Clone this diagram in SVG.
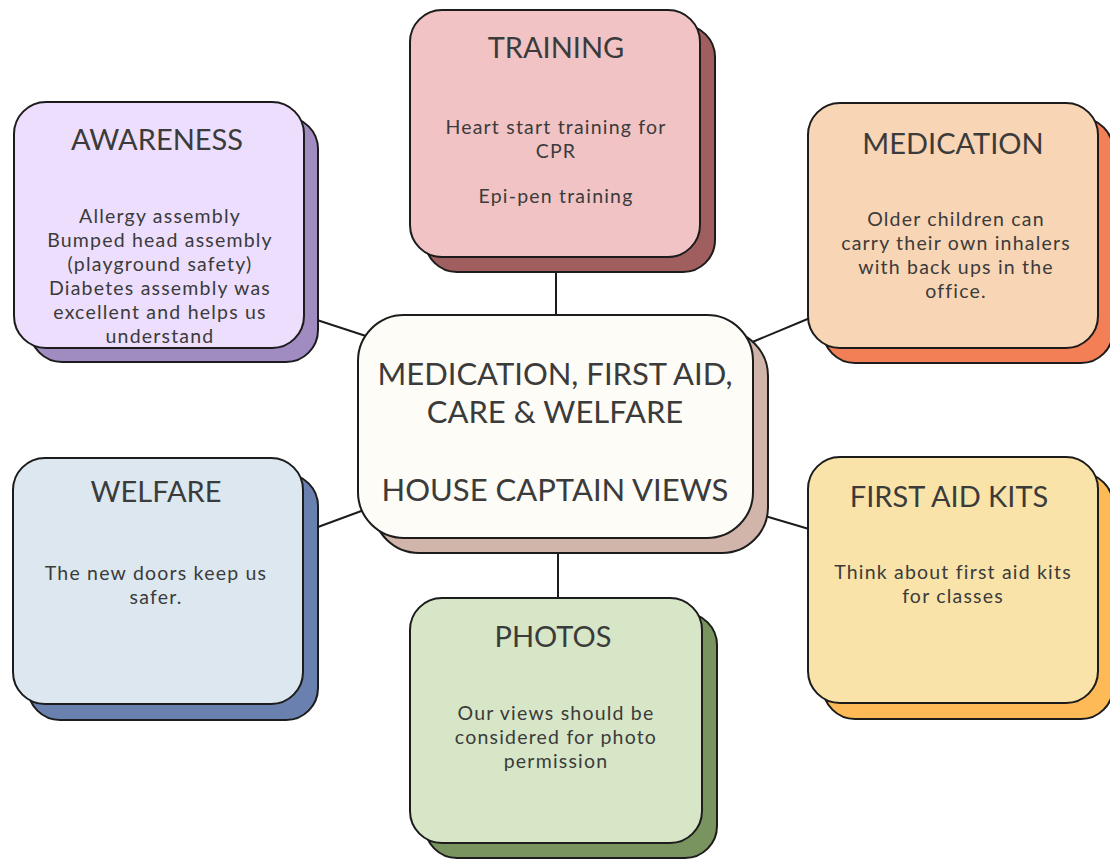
<svg xmlns="http://www.w3.org/2000/svg" width="1110" height="859" viewBox="0 0 1110 859">
<style>
.b{stroke:#1c1c1c;stroke-width:2}
.t{font-family:Lato,"Noto Sans","Liberation Sans",sans-serif;fill:#3b3b3b;text-anchor:middle}
.h{font-size:29px}
.p{font-size:19.5px;letter-spacing:1.2px}
.c{font-size:31px}
.ln{stroke:#1c1c1c;stroke-width:2;fill:none}
</style>
<rect width="1110" height="859" fill="#ffffff"/>
<g id="connectors">
<line class="ln" x1="556" y1="257" x2="556" y2="320"/>
<line class="ln" x1="317" y1="320" x2="372" y2="338"/>
<line class="ln" x1="750" y1="343" x2="810" y2="318"/>
<line class="ln" x1="318" y1="527" x2="364" y2="510"/>
<line class="ln" x1="765" y1="516" x2="809" y2="529"/>
<line class="ln" x1="558" y1="550" x2="558" y2="600"/>
</g>
<g id="awareness">
<rect class="b" x="30" y="117" width="288" height="245" rx="32" fill="#A08CC0"/>
<rect class="b" x="14" y="102" width="290" height="246" rx="32" fill="#ECDEFC"/>
<text class="t h" x="157" y="150">AWARENESS</text>
<text class="t p" x="160" y="223">Allergy assembly</text>
<text class="t p" x="160" y="247">Bumped head assembly</text>
<text class="t p" x="160" y="271">(playground safety)</text>
<text class="t p" x="160" y="295">Diabetes assembly was</text>
<text class="t p" x="160" y="319">excellent and helps us</text>
<text class="t p" x="160" y="343">understand</text>
</g>
<g id="training">
<rect class="b" x="425" y="25" width="290" height="247" rx="32" fill="#A05E5E"/>
<rect class="b" x="410" y="10" width="290" height="247" rx="32" fill="#F1C3C5"/>
<text class="t h" x="556" y="58">TRAINING</text>
<text class="t p" x="556" y="134">Heart start training for</text>
<text class="t p" x="556" y="158">CPR</text>
<text class="t p" x="556" y="203">Epi-pen training</text>
</g>
<g id="medication">
<rect class="b" x="823" y="118" width="290" height="245" rx="32" fill="#F27F55"/>
<rect class="b" x="808" y="103" width="290" height="245" rx="32" fill="#F8D5B5"/>
<text class="t h" x="953" y="154">MEDICATION</text>
<text class="t p" x="956" y="226">Older children can</text>
<text class="t p" x="956" y="250">carry their own inhalers</text>
<text class="t p" x="956" y="274">with back ups in the</text>
<text class="t p" x="956" y="298">office.</text>
</g>
<g id="center">
<rect class="b" x="373" y="330" width="395" height="223" rx="46" fill="#D2B5AA"/>
<rect class="b" x="358" y="315" width="395" height="223" rx="46" fill="#FEFCF6"/>
<text class="t c" x="555" y="385">MEDICATION, FIRST AID,</text>
<text class="t c" x="555" y="423">CARE &amp; WELFARE</text>
<text class="t c" x="555" y="501">HOUSE CAPTAIN VIEWS</text>
</g>
<g id="welfare">
<rect class="b" x="28" y="474" width="290" height="246" rx="32" fill="#6A81B0"/>
<rect class="b" x="13" y="458" width="290" height="246" rx="32" fill="#DCE7F0"/>
<text class="t h" x="156" y="502">WELFARE</text>
<text class="t p" x="156" y="580">The new doors keep us</text>
<text class="t p" x="156" y="604">safer.</text>
</g>
<g id="photos">
<rect class="b" x="425" y="613" width="292" height="245" rx="32" fill="#7A9460"/>
<rect class="b" x="410" y="598" width="292" height="245" rx="32" fill="#D6E6C7"/>
<text class="t h" x="553" y="647">PHOTOS</text>
<text class="t p" x="556" y="720">Our views should be</text>
<text class="t p" x="556" y="744">considered for photo</text>
<text class="t p" x="556" y="768">permission</text>
</g>
<g id="firstaid">
<rect class="b" x="823" y="473" width="290" height="246" rx="32" fill="#FDBA57"/>
<rect class="b" x="808" y="457" width="290" height="246" rx="32" fill="#FAE3A9"/>
<text class="t h" x="949" y="507">FIRST AID KITS</text>
<text class="t p" x="953" y="579">Think about first aid kits</text>
<text class="t p" x="953" y="603">for classes</text>
</g>
</svg>
